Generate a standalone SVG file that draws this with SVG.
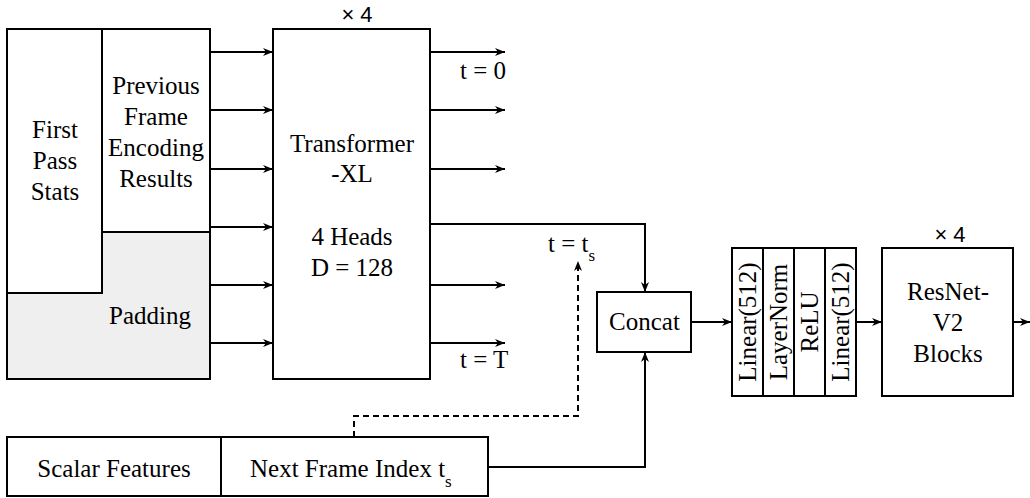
<svg xmlns="http://www.w3.org/2000/svg" width="1030" height="498" viewBox="0 0 1030 498" font-family="Liberation Serif, Tinos, Times New Roman, Noto Serif, DejaVu Serif, serif" font-size="25">
<style>
.bx{fill:#fff;stroke:#000;stroke-width:2}
.ln{fill:none;stroke:#000;stroke-width:2}
.ar{fill:none;stroke:#000;stroke-width:2;marker-end:url(#ah)}
.ds{fill:none;stroke:#000;stroke-width:2;stroke-dasharray:6 4}
.t{fill:#000;text-anchor:middle}
.ts{fill:#000}
.x4{fill:#000;text-anchor:middle}
</style>
<defs>
<marker id="ah" markerUnits="userSpaceOnUse" markerWidth="12" markerHeight="10" refX="10" refY="4" orient="auto">
<path d="M0,0 L10,4 L0,8 L3,4 z" fill="#000"/>
</marker>
</defs>
<rect width="1030" height="498" fill="#fff"/>

<g id="inputs">
<polygon points="7,293 102,293 102,232 210,232 210,379 7,379" fill="#efefef"/>
<rect x="7" y="29" width="203" height="350" class="ln"/>
<path d="M102,29 V293 H7 M102,232 H210" class="ln"/>
<text class="t" x="55" y="138">First</text>
<text class="t" x="55" y="169">Pass</text>
<text class="t" x="55" y="200">Stats</text>
<text class="t" x="156" y="94">Previous</text>
<text class="t" x="156" y="125">Frame</text>
<text class="t" x="156" y="156">Encoding</text>
<text class="t" x="156" y="187">Results</text>
<text class="t" x="150" y="324">Padding</text>
</g>

<g id="transformer">
<rect x="273" y="29" width="157" height="350" class="bx"/>
<text class="x4" x="357" y="22" font-family="Liberation Sans, Arimo, Arial, DejaVu Sans, sans-serif" font-size="22">× 4</text>
<text class="t" x="352" y="152">Transformer</text>
<text class="t" x="352" y="182">-XL</text>
<text class="t" x="352" y="245">4 Heads</text>
<text class="t" x="352" y="276">D = 128</text>
</g>

<g id="concat">
<rect x="597" y="292" width="94" height="60" class="bx"/>
<text class="t" x="644.5" y="330">Concat</text>
</g>

<g id="mlp">
<rect x="732" y="248" width="124" height="148" class="bx"/>
<path d="M763,248 V396 M794,248 V396 M825,248 V396" class="ln"/>
<text class="t" transform="translate(756,322) rotate(-90)">Linear(512)</text>
<text class="t" transform="translate(787,322) rotate(-90)">LayerNorm</text>
<text class="t" transform="translate(818,322) rotate(-90)">ReLU</text>
<text class="t" transform="translate(849,322) rotate(-90)">Linear(512)</text>
</g>

<g id="resnet">
<rect x="882" y="248" width="131" height="148" class="bx"/>
<text class="x4" x="950" y="242" font-family="Liberation Sans, Arimo, Arial, DejaVu Sans, sans-serif" font-size="22">× 4</text>
<text class="t" x="948" y="300">ResNet-</text>
<text class="t" x="948" y="331">V2</text>
<text class="t" x="948" y="362">Blocks</text>
</g>

<g id="scalar">
<rect x="7" y="437" width="214" height="59" class="bx"/>
<text class="t" x="114" y="477">Scalar Features</text>
</g>

<g id="nextframe">
<rect x="221" y="437" width="267" height="59" class="bx"/>
<text class="ts" x="250" y="477">Next Frame Index t<tspan font-size="17" dy="10">s</tspan></text>
</g>

<g id="labels">
<text class="ts" x="460" y="79">t = 0</text>
<text class="ts" x="460" y="368">t = T</text>
<text class="ts" x="548" y="252">t = t<tspan font-size="17" dy="9">s</tspan></text>
</g>

<g id="connectors">
<path d="M210,52 H273" class="ar"/>
<path d="M210,110 H273" class="ar"/>
<path d="M210,169 H273" class="ar"/>
<path d="M210,227 H273" class="ar"/>
<path d="M210,285 H273" class="ar"/>
<path d="M210,343 H273" class="ar"/>
<path d="M430,52 H505" class="ar"/>
<path d="M430,110 H505" class="ar"/>
<path d="M430,169 H505" class="ar"/>
<path d="M430,285 H505" class="ar"/>
<path d="M430,343 H505" class="ar"/>
<path d="M430,224 H645 V292" class="ar"/>
<path d="M488,467 H645 V352" class="ar"/>
<path d="M354,437 V416 H578 V261" class="ds" marker-end="url(#ah)"/>
<path d="M691,322 H732" class="ar"/>
<path d="M856,322 H882" class="ar"/>
<path d="M1013,322 H1030" class="ar"/>
</g>
</svg>
